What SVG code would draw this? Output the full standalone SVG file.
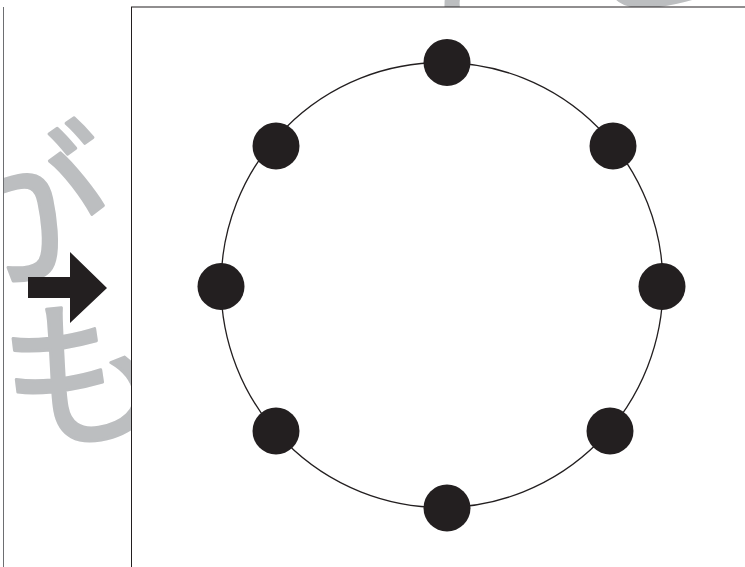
<svg xmlns="http://www.w3.org/2000/svg" width="745" height="567" viewBox="0 0 745 567">
  <style>
    .bg-char { fill: #bcbec0; stroke: #bcbec0; stroke-width: 3; stroke-linejoin: round; font-family: "Noto Sans CJK JP", "Noto Sans", sans-serif; }
    .node { fill: #231f20; }
    .ring { fill: none; stroke: #231f20; stroke-width: 1.3; }
  </style>
  <defs>
    <clipPath id="leftClip">
      <rect x="3.5" y="-200" width="800" height="900"/>
    </clipPath>
  </defs>
  <rect x="0" y="0" width="745" height="567" fill="#ffffff"/>

  <!-- background lettering (partly hidden behind the panel) -->
  <g id="lettering" clip-path="url(#leftClip)">
    <text class="bg-char" x="0" y="0" font-size="170" transform="translate(-44,290) rotate(-12)">が</text>
    <text class="bg-char" x="0" y="0" font-size="165" transform="translate(12,448) rotate(-10)">も</text>
    <text class="bg-char" x="0" y="0" font-size="165" transform="translate(420,40) rotate(-10)">きき</text>
  </g>

  <!-- left panel edge -->
  <line x1="3.5" y1="7" x2="3.5" y2="567" stroke="#6d6e71" stroke-width="1"/>

  <!-- arrow -->
  <g id="arrow">
    <polygon class="node" points="28,277 70,277 70,252 107,288 70,323 70,298 28,298"/>
  </g>

  <!-- main panel -->
  <g id="panel">
    <rect x="131.5" y="7" width="620" height="570" fill="#ffffff" stroke="#231f20" stroke-width="1"/>
  </g>

  <g id="connectors">
    <ellipse class="ring" cx="442" cy="285" rx="221" ry="222.5"/>
  </g>

  <g id="node-top"><circle class="node" cx="447" cy="62.5" r="23.5"/></g>
  <g id="node-top-right"><circle class="node" cx="613" cy="146" r="23.5"/></g>
  <g id="node-right"><circle class="node" cx="662" cy="286.5" r="23.5"/></g>
  <g id="node-bottom-right"><circle class="node" cx="610" cy="431" r="23.5"/></g>
  <g id="node-bottom"><circle class="node" cx="447" cy="508" r="23.5"/></g>
  <g id="node-bottom-left"><circle class="node" cx="276" cy="431" r="23.5"/></g>
  <g id="node-left"><circle class="node" cx="221" cy="286.5" r="23.5"/></g>
  <g id="node-top-left"><circle class="node" cx="276" cy="146" r="23.5"/></g>
</svg>
